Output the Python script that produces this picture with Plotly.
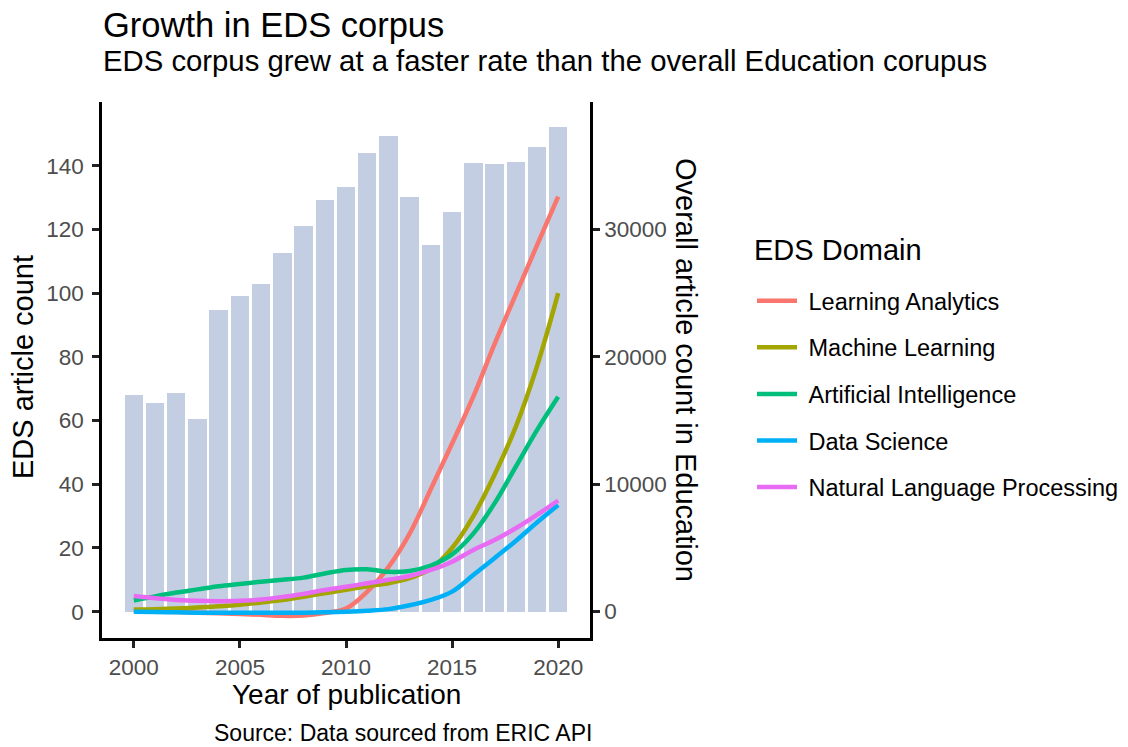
import plotly.graph_objects as go

years = list(range(2000, 2021))

overall_counts = [17010, 16350, 17190, 15100, 23660, 24810, 25750, 28160, 30280, 32350,
                  33350, 35990, 37350, 32560, 28790, 31410, 35260, 35180, 35310, 36490, 38060]

domains = ["Learning Analytics", "Machine Learning", "Artificial Intelligence",
           "Data Science", "Natural Language Processing"]
learning_analytics = [0.3, 0.1, -0.1, -0.3, -0.5, -0.7, -1.0, -1.3, -1.2, -0.4,
                      1.0, 6.3, 14.0, 24.5, 38.5, 52.8, 67.5, 84.0, 99.5, 115.0, 130.3]
machine_learning = [0.7, 0.8, 1.0, 1.3, 1.7, 2.2, 2.9, 3.7, 4.7, 5.8,
                    6.9, 8.0, 8.9, 10.5, 13.5, 20.0, 30.0, 43.0, 58.0, 77.0, 100.0]
artificial_intelligence = [3.5, 4.8, 6.0, 7.0, 8.0, 8.7, 9.4, 10.0, 10.7, 12.0,
                           13.1, 13.3, 12.5, 12.8, 14.5, 18.0, 24.5, 34.0, 45.5, 57.0, 67.5]
data_science = [0.0, -0.1, -0.2, -0.3, -0.3, -0.3, -0.3, -0.3, -0.3, -0.2,
                0.0, 0.3, 0.8, 2.0, 3.7, 6.3, 11.5, 16.8, 22.2, 28.0, 33.5]
nlp = [4.9, 4.2, 3.7, 3.4, 3.3, 3.4, 3.8, 4.6, 5.6, 6.8,
       7.8, 8.9, 10.0, 11.2, 13.1, 15.7, 19.4, 22.5, 26.2, 30.4, 34.9]
series = [learning_analytics, machine_learning, artificial_intelligence, data_science, nlp]
colors = ["#F8766D", "#A3A500", "#00BF7D", "#00B0F6", "#E76BF3"]

x_ticks = [2000, 2005, 2010, 2015, 2020]
left_ticks = [0, 20, 40, 60, 80, 100, 120, 140]
right_ticks = [0, 10000, 20000, 30000]

FONT = "Liberation Sans, Arial, Helvetica, sans-serif"
TICK_COLOR = "#4d4d4d"

fig = go.Figure()

fig.add_trace(go.Bar(
    x=years, y=overall_counts, yaxis="y", width=0.87,
    marker=dict(color="rgb(196,206,227)", line=dict(width=0)),
    showlegend=False, hoverinfo="x+y",
))

for name, vals, col in zip(domains, series, colors):
    fig.add_trace(go.Scatter(
        x=years, y=vals, yaxis="y2", mode="lines", name="&nbsp;" + name,
        line=dict(color=col, width=4.5, shape="spline", smoothing=1.0),
        legendgroup=name,
    ))

# the page body has an 8px margin; lay the figure out in page pixels minus that offset
OFF = 8
W, H = 1128 - OFF, 747 - OFF
L, R, T, B = 102 - OFF, 590 - OFF, 102 - OFF, 638 - OFF
pw, ph = R - L, B - T


def px_x(x):
    return (x - OFF - L) / pw


def px_y(y):
    return (B - (y - OFF)) / ph


axis_common = dict(
    showline=True, linecolor="black", linewidth=2.5,
    ticks="outside", ticklen=7, tickwidth=2.5, tickcolor="#222222",
    showgrid=False, zeroline=False,
    tickfont=dict(family=FONT, size=22.5, color=TICK_COLOR),
)

fig.update_layout(
    width=W, height=H,
    margin=dict(l=L, r=W - R, t=T, b=H - B, pad=0, autoexpand=False),
    paper_bgcolor="white", plot_bgcolor="white",
    font=dict(family=FONT, color="black"),
    bargap=0,
    xaxis=dict(range=[1998.5, 2021.5], tickvals=x_ticks, **axis_common),
    yaxis=dict(range=[-2082, 40024], side="right", tickvals=right_ticks,
               ticktext=[str(v) for v in right_ticks], **axis_common),
    yaxis2=dict(range=[-8.26, 160.0], side="left", overlaying="y",
                tickvals=left_ticks, ticklabelstandoff=4, **axis_common),
    legend=dict(
        x=px_x(752), xanchor="left", y=px_y(279), yanchor="top",
        font=dict(family=FONT, size=23.5, color="black"),
        tracegroupgap=13, itemwidth=40, bgcolor="rgba(0,0,0,0)",
    ),
    showlegend=True,
)

annotations = [
    dict(text="Growth in EDS corpus", x=px_x(101), y=px_y(25), xanchor="left", yanchor="middle",
         font=dict(size=34.5, family=FONT, color="black")),
    dict(text="EDS corpus grew at a faster rate than the overall Education corupus",
         x=px_x(101), y=px_y(61), xanchor="left", yanchor="middle",
         font=dict(size=29.3, family=FONT, color="black")),
    dict(text="EDS article count", x=px_x(23), y=px_y(367), xanchor="center", yanchor="middle",
         textangle=-90, font=dict(size=29, family=FONT, color="black")),
    dict(text="Overall article count in Education", x=px_x(686), y=px_y(370),
         xanchor="center", yanchor="middle", textangle=90,
         font=dict(size=29, family=FONT, color="black")),
    dict(text="Year of publication", x=0.5, y=px_y(694), xanchor="center", yanchor="middle",
         font=dict(size=28, family=FONT, color="black")),
    dict(text="Source: Data sourced from ERIC API", x=px_x(594), y=px_y(732.5),
         xanchor="right", yanchor="middle", font=dict(size=23, family=FONT, color="black")),
    dict(text="EDS Domain", x=px_x(752), y=px_y(250), xanchor="left", yanchor="middle",
         font=dict(size=29, family=FONT, color="black")),
]
for a in annotations:
    a.update(xref="paper", yref="paper", showarrow=False)
fig.update_layout(annotations=annotations)

fig.write_html("out.html")
